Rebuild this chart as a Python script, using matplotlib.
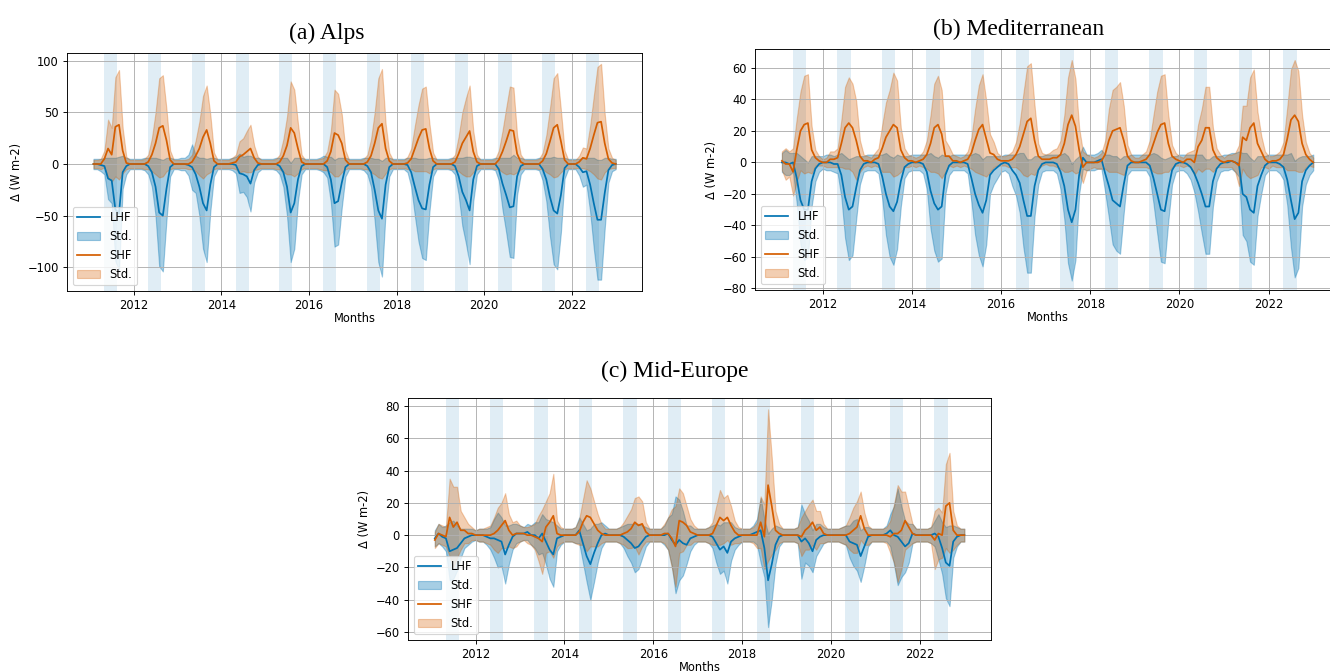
import matplotlib.pyplot as plt
import numpy as np

# monthly values 2011-01 .. 2022-12, one row per year
alps_lhf = [
    0, 0, -1, -2, -14, -16, -44, -48, -8, -2, 0, 0,
    0, 0, 0, -2, -8, -22, -47, -50, -24, -3, 0, 0,
    0, 0, -1, -3, -10, -22, -38, -45, -20, -3, 0, 0,
    0, 0, 0, -1, -9, -10, -12, -19, -6, -1, 0, 0,
    0, 0, 0, -2, -8, -22, -47, -38, -15, -2, 0, 0,
    0, 0, 0, 0, -3, -15, -38, -36, -18, -3, 0, 0,
    0, 0, 0, -2, -8, -25, -45, -53, -20, -3, 0, 0,
    0, 0, -1, -8, -22, -35, -43, -44, -20, -3, 0, 0,
    0, 0, 0, -2, -12, -27, -35, -45, -15, -2, 0, 0,
    0, 0, 0, -5, -19, -30, -42, -41, -12, -2, 0, 0,
    0, 0, 0, -5, -15, -32, -45, -48, -30, -4, 0, 0,
    0, -3, -8, -7, -20, -38, -54, -54, -28, -6, -1, 0,
]
alps_lhf_std = [
    5, 5, 6, 8, 20, 22, 50, 55, 16, 8, 5, 5,
    5, 5, 6, 8, 14, 28, 52, 54, 30, 9, 5, 5,
    6, 6, 10, 22, 18, 28, 44, 50, 26, 9, 5, 5,
    5, 5, 6, 8, 19, 17, 20, 27, 12, 7, 5, 5,
    5, 5, 6, 8, 14, 28, 48, 44, 21, 8, 5, 5,
    5, 5, 6, 8, 10, 22, 42, 42, 24, 9, 5, 5,
    5, 5, 6, 8, 14, 30, 50, 56, 26, 9, 5, 5,
    5, 5, 7, 14, 28, 40, 48, 49, 26, 9, 5, 5,
    5, 5, 6, 8, 18, 33, 42, 52, 21, 8, 5, 5,
    5, 5, 6, 11, 25, 36, 48, 50, 18, 8, 5, 5,
    5, 5, 6, 11, 21, 38, 52, 54, 36, 10, 5, 5,
    5, 8, 14, 13, 26, 44, 58, 58, 34, 12, 6, 5,
]
alps_shf = [
    0, 0, 0, 5, 15, 9, 36, 38, 13, 1, 0, 0,
    0, 0, 0, 2, 9, 20, 35, 37, 23, 4, 0, 0,
    0, 0, 0, 2, 8, 15, 26, 33, 20, 3, 0, 0,
    0, 0, 1, 2, 7, 9, 12, 15, 6, 1, 0, 0,
    0, 0, 0, 2, 8, 18, 35, 30, 15, 2, 0, 0,
    0, 0, 0, 0, 3, 12, 30, 28, 20, 4, 0, 0,
    0, 0, 0, 2, 8, 20, 35, 39, 15, 3, 0, 0,
    0, 0, 1, 5, 15, 25, 33, 34, 15, 3, 0, 0,
    0, 0, 0, 2, 10, 20, 26, 32, 12, 2, 0, 0,
    0, 0, 0, 4, 12, 22, 33, 32, 10, 2, 0, 0,
    0, 0, 0, 3, 10, 22, 35, 38, 22, 4, 0, 0,
    0, 2, 6, 5, 15, 28, 40, 41, 20, 5, 1, 0,
]
alps_shf_std = [
    4, 4, 5, 8, 28, 26, 48, 53, 22, 6, 4, 4,
    4, 4, 5, 7, 16, 30, 48, 49, 30, 9, 4, 4,
    4, 4, 5, 7, 15, 26, 40, 43, 28, 8, 4, 4,
    4, 4, 5, 7, 15, 16, 20, 23, 12, 6, 4, 4,
    4, 4, 5, 7, 16, 28, 45, 42, 24, 7, 4, 4,
    4, 4, 5, 6, 9, 20, 42, 40, 28, 9, 4, 4,
    4, 4, 5, 7, 16, 30, 48, 53, 24, 8, 4, 4,
    4, 4, 6, 10, 22, 32, 40, 41, 24, 8, 4, 4,
    4, 4, 5, 7, 17, 30, 38, 44, 20, 7, 4, 4,
    4, 4, 5, 9, 20, 32, 42, 42, 18, 7, 4, 4,
    4, 4, 5, 8, 18, 32, 48, 50, 30, 9, 4, 4,
    4, 6, 10, 10, 22, 38, 54, 56, 28, 10, 5, 4,
]

med_lhf = [
    0, 0, -1, 0, -10, -24, -30, -30, -12, -4, -1, 0,
    0, 0, -1, -1, -8, -22, -30, -28, -16, -5, -1, 0,
    0, 0, -1, -9, -20, -28, -31, -25, -12, -3, -1, 0,
    0, 0, -1, -6, -18, -26, -30, -28, -8, -2, 0, 0,
    0, 0, -1, -10, -20, -27, -32, -24, -8, -5, -3, -1,
    0, -1, -5, -8, -13, -24, -34, -34, -15, -5, -1, 0,
    0, 0, -1, -6, -15, -30, -38, -30, -8, 3, 0, 0,
    0, 1, 2, -7, -15, -24, -26, -28, -14, -2, 0, 0,
    0, 0, 0, -2, -10, -20, -30, -31, -17, -5, -1, 0,
    0, -1, -3, -7, -13, -20, -28, -28, -12, -4, -1, 0,
    0, 1, 0, -1, -20, -22, -30, -32, -15, -8, -2, 0,
    0, 0, -1, -3, -11, -24, -36, -32, -12, -5, -2, 0,
]
med_lhf_std = [
    6, 8, 7, 6, 16, 28, 32, 30, 16, 8, 5, 4,
    5, 5, 5, 6, 14, 26, 32, 31, 20, 9, 5, 5,
    5, 5, 6, 14, 26, 32, 34, 30, 16, 7, 5, 5,
    5, 5, 6, 11, 24, 30, 33, 33, 12, 6, 5, 5,
    5, 5, 6, 15, 26, 32, 34, 28, 12, 9, 7, 5,
    5, 6, 10, 13, 19, 30, 36, 36, 19, 9, 5, 5,
    5, 5, 6, 11, 21, 34, 37, 32, 12, 7, 5, 5,
    5, 5, 6, 12, 20, 28, 30, 30, 18, 6, 5, 5,
    5, 5, 5, 7, 16, 25, 33, 33, 20, 9, 5, 5,
    5, 6, 8, 12, 18, 25, 30, 30, 16, 8, 5, 5,
    5, 5, 6, 8, 26, 28, 33, 33, 19, 12, 6, 5,
    5, 5, 6, 8, 16, 30, 37, 35, 16, 9, 6, 5,
]
med_shf = [
    1, -1, -1, -6, 8, 20, 24, 25, 8, 3, 1, 0,
    0, 2, 2, 3, 12, 22, 25, 22, 14, 4, 1, 1,
    0, 2, 3, 9, 16, 20, 24, 22, 8, 3, 1, 1,
    0, 1, 2, 5, 12, 22, 24, 18, 4, 4, 1, 1,
    0, 1, 2, 6, 14, 21, 24, 15, 6, 5, 2, 1,
    1, 1, 2, 5, 10, 18, 26, 28, 14, 4, 2, 2,
    2, 3, 3, 5, 12, 24, 30, 23, 8, -3, 0, 0,
    0, 0, 1, 5, 14, 20, 21, 22, 14, 4, 1, 0,
    0, 1, 2, 5, 12, 19, 24, 25, 12, 4, 2, 1,
    0, 2, 2, 0, 10, 14, 22, 22, 8, 3, 1, 0,
    1, 1, 0, -2, 16, 14, 22, 25, 12, 7, 2, 0,
    1, 1, 2, 5, 15, 27, 30, 26, 12, 5, 2, 0,
]
med_shf_std = [
    6, 10, 8, 15, 20, 25, 31, 31, 15, 5, 3, 2,
    3, 5, 5, 6, 15, 26, 29, 28, 25, 10, 4, 3,
    3, 4, 6, 15, 22, 26, 33, 30, 14, 6, 4, 3,
    3, 3, 5, 9, 18, 28, 31, 28, 10, 6, 4, 3,
    3, 3, 5, 10, 20, 28, 32, 24, 12, 8, 4, 3,
    3, 4, 5, 8, 15, 26, 35, 35, 22, 8, 4, 3,
    4, 5, 6, 9, 18, 30, 35, 30, 14, 10, 5, 4,
    3, 4, 5, 9, 20, 26, 27, 29, 22, 7, 4, 3,
    3, 4, 5, 9, 18, 26, 31, 31, 18, 7, 4, 3,
    3, 4, 5, 8, 14, 20, 26, 26, 14, 6, 4, 3,
    4, 4, 6, 13, 20, 22, 32, 34, 20, 10, 5, 4,
    3, 4, 5, 8, 20, 32, 35, 32, 18, 8, 4, 3,
]

mid_lhf = [
    -2, 1, -1, -2, -10, -9, -8, -5, -2, -1, 0, 0,
    0, 0, -1, -2, -2, -3, -4, -12, -6, -1, 1, 1,
    1, 2, 0, 0, -2, 1, -4, -9, -12, -2, -1, 0,
    0, 0, 0, 3, -5, -13, -18, -11, -5, 0, 1, 0,
    0, 0, 0, -1, -3, -5, -8, -7, -4, -1, 0, 0,
    0, 0, 0, 1, -3, -6, -3, -5, -6, -2, -1, 0,
    0, 0, 0, -1, -5, -9, -7, -11, -4, -2, -1, 0,
    0, 0, 1, 2, 3, -8, -28, -18, -6, -1, 0, 0,
    0, 0, 0, -4, -2, -5, -10, -3, -1, 0, 0, 0,
    0, 0, 0, 0, -4, -5, -6, -13, -7, -1, 0, 0,
    0, 0, 1, 3, 0, -1, -4, -7, -5, 1, 0, 0,
    0, 0, 0, 1, -1, -8, -17, -19, -4, -1, 0, 0,
]
mid_lhf_std = [
    5, 6, 6, 8, 18, 18, 14, 9, 6, 5, 4, 3,
    4, 4, 5, 7, 12, 17, 15, 18, 12, 8, 6, 5,
    4, 5, 6, 8, 10, 12, 14, 18, 20, 8, 5, 4,
    4, 4, 5, 8, 12, 16, 22, 18, 12, 8, 5, 4,
    4, 4, 5, 7, 10, 12, 15, 14, 10, 6, 4, 4,
    4, 4, 6, 10, 16, 30, 25, 20, 12, 8, 5, 4,
    4, 4, 5, 7, 12, 15, 15, 19, 12, 7, 5, 4,
    4, 4, 5, 8, 20, 18, 29, 22, 12, 6, 4, 4,
    4, 4, 5, 23, 15, 14, 13, 10, 8, 5, 4, 4,
    4, 4, 5, 6, 10, 14, 16, 16, 12, 6, 4, 4,
    4, 4, 5, 10, 18, 30, 22, 16, 12, 6, 4, 4,
    4, 4, 5, 8, 14, 16, 22, 25, 10, 6, 4, 4,
]
mid_shf = [
    -3, 1, 0, -1, 11, 5, 8, 3, 3, 1, 1, 0,
    0, 0, 0, 0, 1, 3, 6, 9, 3, 0, 1, 1,
    1, 0, 0, -1, -2, -4, 5, 8, 12, 1, 0, 0,
    0, 0, 0, 2, 8, 12, 11, 7, 3, 1, 0, 0,
    0, 0, 0, 1, 2, 4, 8, 6, 7, 2, 0, 0,
    0, 0, 1, 1, -2, -7, 9, 8, 6, 2, 1, 0,
    0, 0, 0, 1, 6, 11, 9, 11, 6, 2, 0, 0,
    0, 0, 0, 0, 8, -1, 31, 18, 3, 1, 0, 0,
    0, 0, 0, -1, 3, 5, 8, 3, 5, 1, 0, 0,
    0, 0, 0, 0, 1, 3, 5, 12, 4, 0, 0, 0,
    0, 0, 0, -1, 1, 1, 3, 9, 5, 1, 0, 0,
    0, 0, 0, -3, 1, 0, 18, 20, 3, 0, 0, 0,
]
mid_shf_std = [
    5, 6, 6, 6, 24, 25, 22, 12, 8, 6, 4, 3,
    4, 4, 5, 6, 10, 14, 14, 17, 10, 8, 8, 5,
    4, 5, 6, 8, 14, 20, 16, 18, 26, 8, 5, 4,
    4, 4, 5, 8, 14, 22, 18, 14, 10, 6, 4, 4,
    4, 4, 5, 7, 10, 12, 15, 18, 14, 6, 4, 4,
    4, 4, 6, 10, 18, 25, 20, 18, 12, 8, 5, 4,
    4, 4, 5, 7, 12, 17, 14, 14, 12, 7, 5, 4,
    4, 4, 5, 8, 16, 20, 47, 30, 12, 6, 4, 4,
    4, 4, 5, 12, 12, 14, 14, 12, 10, 6, 4, 4,
    4, 4, 5, 6, 10, 14, 16, 15, 10, 6, 4, 4,
    4, 4, 5, 10, 18, 30, 24, 18, 12, 6, 4, 4,
    4, 4, 5, 18, 16, 14, 26, 31, 12, 6, 4, 4,
]

years = np.arange(2011, 2023)
months = 2011 + np.arange(1, 145) / 12   # month ends as decimal years

azul = "#0173B2"
naranja = "#D55E00"

W, H, DPI = 1330, 672, 83
fig = plt.figure(figsize=(W / DPI, H / DPI), dpi=DPI)


def panel(rect, lhf, lhf_std, shf, shf_std, yticks, ylim):
    ax = fig.add_axes(rect)
    for y in years:
        ax.axvspan(y + 0.325, y + 0.625, color=azul, alpha=0.12, lw=0)
    lhf, lhf_std = np.array(lhf), np.array(lhf_std)
    shf, shf_std = np.array(shf), np.array(shf_std)
    ax.plot(months, lhf, color=azul, lw=1.5, label="LHF")
    ax.fill_between(months, lhf - lhf_std, lhf + lhf_std, color=azul, alpha=0.35, label="Std.")
    ax.plot(months, shf, color=naranja, lw=1.5, label="SHF")
    ax.fill_between(months, shf - shf_std, shf + shf_std, color=naranja, alpha=0.3, label="Std.")
    ax.set_xticks(np.arange(2012, 2023, 2))
    ax.set_xlim(2010.48, 2023.6)
    ax.set_yticks(yticks)
    ax.set_ylim(ylim)
    ax.grid(True)
    ax.set_xlabel("Months", labelpad=0)
    ax.set_ylabel("Δ (W m-2)")
    ax.legend(loc="lower left")
    return ax


panel([67 / W, 1 - 291 / H, 575 / W, 238 / H], alps_lhf, alps_lhf_std, alps_shf, alps_shf_std,
      [-100, -50, 0, 50, 100], (-123, 107.5))
panel([755 / W, 1 - 290 / H, 585 / W, 241 / H], med_lhf, med_lhf_std, med_shf, med_shf_std,
      np.arange(-80, 61, 20), (-81, 72))
panel([408 / W, 1 - 640 / H, 583 / W, 242 / H], mid_lhf, mid_lhf_std, mid_shf, mid_shf_std,
      np.arange(-60, 81, 20), (-65, 85))

serif = dict(ha="center", va="center", family="Liberation Serif", fontsize=20.5)
fig.text(327 / W, 1 - 33 / H, "(a) Alps", **serif)
fig.text(1019 / W, 1 - 29 / H, "(b) Mediterranean", **serif)
fig.text(675 / W, 1 - 371 / H, "(c) Mid-Europe", **serif)

plt.savefig("out.png", dpi=DPI)
